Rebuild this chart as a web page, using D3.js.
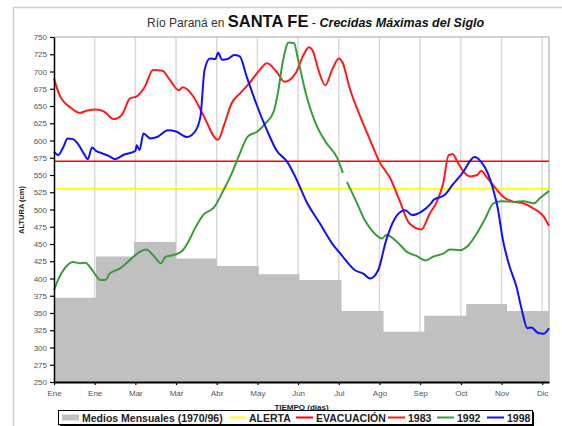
<!DOCTYPE html>
<html>
<head>
<meta charset="utf-8">
<script src="https://cdn.jsdelivr.net/npm/d3@7"></script>
<style>
  body { margin: 0; background: #fff; }
  svg { display: block; font-family: "Liberation Sans", Arial, sans-serif; }
</style>
</head>
<body>
<svg id="chart" width="562" height="426"></svg>
<script>
/* ── Data ─────────────────────────────────────────── */
const monthStarts  = [0, 31, 59, 90, 120, 151, 181, 212, 243, 273, 304, 334];
const monthlyMeans = [372, 432, 453, 429, 418, 406, 398, 353, 323, 346, 363, 353];

const tickDays   = [0, 30, 60, 90, 120, 150, 180, 210, 240, 270, 300, 330, 360];
const tickLabels = ["Ene", "Ene", "Mar", "Mar", "Abr", "May", "Jun", "Jul", "Ago", "Sep", "Oct", "Nov", "Dic"];
const yTicks     = d3.range(250, 751, 25);

const nivelAlerta     = 530;
const nivelEvacuacion = 570;

// [día, altura cm]
const serie1983 = [
  [0,690],[4,666],[12,648],[19,640],[24,643],[31,645],[37,642],[44,631],[50,637],[56,661],
  [61,664],[67,678],[73,702],[80,701],[85,689],[92,673],[95,677],[103,663],[110,637],[121,601],
  [125,620],[131,654],[137,668],[144,683],[152,703],[157,712],[164,700],[170,685],[178,697],[184,724],
  [188,735],[191,729],[195,702],[200,680],[205,702],[210,719],[213,712],[218,676],[226,634],[233,601],
  [240,569],[248,545],[255,512],[262,480],[271,471],[277,494],[282,510],[287,538],[291,579],[294,580],
  [298,567],[302,555],[307,548],[312,550],[315,556],[319,547],[324,535],[331,519],[339,511],[346,509],
  [353,502],[361,490],[365,476]
];

const serie1992 = [
  [0,383],[3,398],[8,415],[14,424],[19,422],[23,423],[29,410],[34,398],[38,398],[41,407],
  [49,415],[56,427],[62,437],[68,442],[73,434],[79,422],[82,431],[88,434],[94,439],[99,453],
  [104,473],[110,492],[118,503],[125,528],[131,552],[137,581],[143,606],[150,613],[156,625],[162,642],
  [165,668],[169,717],[173,742],[177,741],[180,717],[186,666],[194,620],[201,596],[209,574],[213,553],
  null,
  [216,540],[223,511],[229,485],[236,466],[242,458],[245,463],[253,453],[260,439],[268,432],[274,426],
  [280,432],[287,436],[292,442],[299,441],[306,449],[312,466],[318,487],[324,509],[330,512],[339,511],
  [346,512],[354,509],[358,516],[362,522],[365,527]
];

const serie1998 = [
  [0,584],[3,579],[7,591],[10,603],[14,602],[18,594],[22,581],[25,573],[28,590],[31,585],
  [36,581],[41,577],[45,573],[51,579],[60,585],[61,593],[63,586],[66,610],[71,603],[76,605],
  [84,615],[90,613],[98,605],[104,613],[108,635],[111,702],[115,719],[119,718],[121,727],[124,717],
  [128,718],[133,724],[137,722],[142,693],[149,654],[157,615],[164,586],[172,569],[179,543],[186,512],
  [196,480],[205,451],[212,434],[222,412],[228,407],[233,400],[239,412],[245,456],[253,492],[259,499],
  [264,492],[271,497],[278,509],[280,514],[288,521],[294,536],[302,555],[307,571],[310,576],[315,569],
  [320,552],[324,528],[327,504],[331,456],[336,417],[341,388],[345,354],[349,328],[352,329],[357,321],
  [361,320],[365,328]
];

/* ── Layout ───────────────────────────────────────── */
const svg = d3.select("#chart");
const x = d3.scaleLinear().domain([0, 365]).range([54, 549]);
const y = d3.scaleLinear().domain([250, 750]).range([382, 37]);

// outer frame
svg.append("rect")
  .attr("x", 13.5).attr("y", 7.5).attr("width", 560).attr("height", 440)
  .attr("fill", "none").attr("stroke", "#cfcfcf").attr("stroke-width", 1.5);

// title
const title = svg.append("text").attr("x", 147).attr("y", 27).attr("fill", "#111");
title.append("tspan").attr("font-size", 12).attr("fill", "#333").text("Río Paraná en ");
title.append("tspan").attr("font-size", 16.5).attr("font-weight", "bold").text("SANTA FE");
title.append("tspan").attr("font-size", 12.5).text(" - ");
title.append("tspan").attr("font-size", 12.5).attr("font-weight", "bold").attr("font-style", "italic")
  .text("Crecidas Máximas del Siglo");

/* ── Grid ─────────────────────────────────────────── */
svg.append("g").selectAll("line")
  .data(tickDays.filter(d => d > 0)).join("line")
  .attr("x1", d => x(d)).attr("x2", d => x(d))
  .attr("y1", y(750)).attr("y2", y(250))
  .attr("stroke", "#d9d9d9").attr("stroke-width", 1.5);

svg.append("path")
  .attr("d", `M${x(0)},${y(750)}H${x(365)}V${y(250)}`)
  .attr("fill", "none").attr("stroke", "#c4c4c4").attr("stroke-width", 1.5);

/* ── Monthly means (step area) ────────────────────── */
const meanPoints = monthStarts.map((d, i) => [d, monthlyMeans[i]]);
meanPoints.push([365, monthlyMeans[monthlyMeans.length - 1]]);

svg.append("path")
  .datum(meanPoints)
  .attr("d", d3.area().curve(d3.curveStepAfter)
    .x(d => x(d[0])).y0(y(250)).y1(d => y(d[1])))
  .attr("fill", "#c0c0c0");

/* ── Threshold lines ──────────────────────────────── */
svg.append("line")
  .attr("x1", x(0)).attr("x2", x(365))
  .attr("y1", y(nivelAlerta)).attr("y2", y(nivelAlerta))
  .attr("stroke", "#ffff00").attr("stroke-width", 1.5);
svg.append("line")
  .attr("x1", x(0)).attr("x2", x(365))
  .attr("y1", y(nivelEvacuacion)).attr("y2", y(nivelEvacuacion))
  .attr("stroke", "#ff0000").attr("stroke-width", 1.5);

/* ── Series ───────────────────────────────────────── */
const line = d3.line()
  .defined(d => d !== null)
  .curve(d3.curveMonotoneX)
  .x(d => x(d[0])).y(d => y(d[1]));

const series = [
  { data: serie1983, color: "#ff1a1a" },
  { data: serie1992, color: "#3c9a3c" },
  { data: serie1998, color: "#1010ff" }
];

svg.append("g").selectAll("path")
  .data(series).join("path")
  .attr("d", d => line(d.data))
  .attr("fill", "none")
  .attr("stroke", d => d.color)
  .attr("stroke-width", 2)
  .attr("stroke-linejoin", "round");

/* ── Axes ─────────────────────────────────────────── */
const yAxis = svg.append("g")
  .attr("transform", `translate(${x(0)},0)`)
  .call(d3.axisLeft(y).tickValues(yTicks).tickSize(4).tickSizeOuter(0).tickPadding(3));
yAxis.select(".domain").attr("stroke", "#000").attr("stroke-width", 1.5);
yAxis.selectAll(".tick line").attr("stroke", "#000").attr("stroke-width", 1.2);
yAxis.selectAll(".tick text").attr("font-size", 8).attr("fill", "#555")
  .attr("font-family", "'Liberation Sans', Arial, sans-serif");

const xAxis = svg.append("g")
  .attr("transform", `translate(0,${y(250)})`)
  .call(d3.axisBottom(x).tickValues(tickDays).tickFormat((d, i) => tickLabels[i])
    .tickSize(3).tickSizeOuter(0).tickPadding(5));
xAxis.select(".domain").attr("stroke", "#000").attr("stroke-width", 2);
xAxis.selectAll(".tick line").attr("stroke", "#000").attr("stroke-width", 1.2);
xAxis.selectAll(".tick text").attr("font-size", 8).attr("fill", "#555")
  .attr("font-family", "'Liberation Sans', Arial, sans-serif");

svg.append("text")
  .attr("transform", "translate(24,210) rotate(-90)")
  .attr("text-anchor", "middle")
  .attr("font-size", 7.5).attr("font-weight", "bold").attr("fill", "#222")
  .text("ALTURA (cm)");

svg.append("text")
  .attr("x", (x(0) + x(365)) / 2).attr("y", 410)
  .attr("text-anchor", "middle")
  .attr("font-size", 8).attr("font-weight", "bold").attr("fill", "#222")
  .text("TIEMPO (dias)");

/* ── Legend ───────────────────────────────────────── */
const legend = svg.append("g");
legend.append("rect")
  .attr("x", 60).attr("y", 412).attr("width", 474).attr("height", 14)
  .attr("fill", "#000");
legend.append("rect")
  .attr("x", 58.5).attr("y", 410.5).attr("width", 474).attr("height", 14)
  .attr("fill", "#fff").attr("stroke", "#000").attr("stroke-width", 1);

const legendItems = [
  { label: "Medios Mensuales (1970/96)", color: "#c0c0c0", swatch: true, x: 62 },
  { label: "ALERTA",     color: "#ffff00", x: 229 },
  { label: "EVACUACIÓN", color: "#ff0000", x: 296 },
  { label: "1983",       color: "#ff1a1a", x: 388 },
  { label: "1992",       color: "#3c9a3c", x: 437 },
  { label: "1998",       color: "#1010ff", x: 487 }
];

const item = legend.selectAll("g.item").data(legendItems).join("g").attr("class", "item");
item.filter(d => d.swatch).append("rect")
  .attr("x", d => d.x).attr("y", 414.5).attr("width", 17).attr("height", 6)
  .attr("fill", d => d.color);
item.filter(d => !d.swatch).append("line")
  .attr("x1", d => d.x).attr("x2", d => d.x + 17)
  .attr("y1", 417.5).attr("y2", 417.5)
  .attr("stroke", d => d.color).attr("stroke-width", 2);
item.append("text")
  .attr("x", d => d.x + 20).attr("y", 421.5)
  .attr("font-size", 10.5).attr("font-weight", "bold").attr("fill", "#222")
  .text(d => d.label);
</script>
</body>
</html>
